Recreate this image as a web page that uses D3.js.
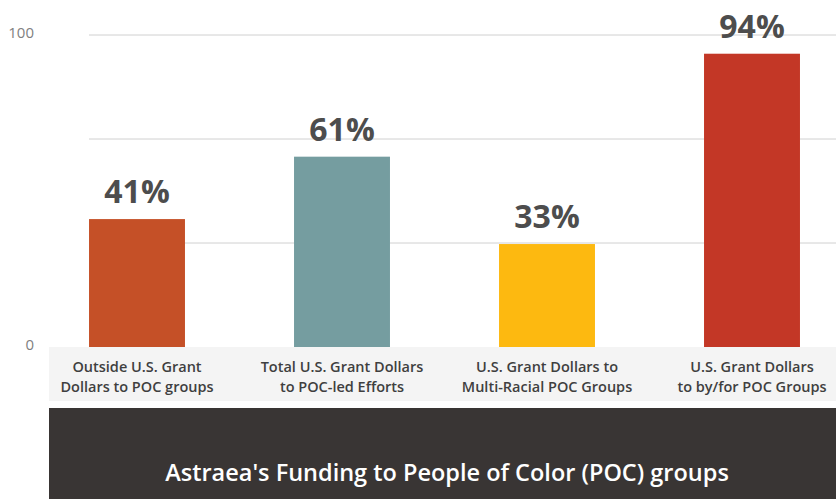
<!DOCTYPE html>
<html>
<head>
<meta charset="utf-8">
<script src="https://cdn.jsdelivr.net/npm/d3@7.9.0/dist/d3.min.js"></script>
<style>
    body { margin: 0; background: #fff; }
    svg { display: block; font-family: 'Open Sans', sans-serif; }
</style>
</head>
<body>
<svg id="chart" width="836" height="499"></svg>
<script>
const categories = [
    ['Outside U.S. Grant', 'Dollars to POC groups'],
    ['Total U.S. Grant Dollars', 'to POC-led Efforts'],
    ['U.S. Grant Dollars to', 'Multi-Racial POC Groups'],
    ['U.S. Grant Dollars', 'to by/for POC Groups'],
];
const values = [41, 61, 33, 94];
const barColors = ['#c55027', '#759da0', '#fdb910', '#c33726'];
const tickLabels = [0, 100];
const gridValues = [100 / 3, 200 / 3, 100];
const title = "Astraea's Funding to People of Color (POC) groups";

const svg = d3.select('#chart');

let x = d3.scaleBand()
    .domain(d3.range(categories.length))
    .range([34.5, 854.5])
    .paddingInner(0.532)
    .paddingOuter(0.266);
let y = d3.scaleLinear().domain([0, 100]).range([347, 35]);

// gridlines
svg.selectAll('line.grid')
    .data(gridValues)
    .join('line')
    .attr('class', 'grid')
    .attr('x1', 89).attr('x2', 836)
    .attr('y1', (d) => y(d)).attr('y2', (d) => y(d))
    .attr('stroke', '#d0d0d0')
    .attr('stroke-width', 1);

// y tick labels
svg.selectAll('text.tick')
    .data(tickLabels)
    .join('text')
    .attr('class', 'tick')
    .attr('x', 34)
    .attr('y', (d) => y(d) - 2)
    .attr('dy', '0.35em')
    .attr('text-anchor', 'end')
    .attr('fill', '#7f7f7f')
    .style('font-size', '15px')
    .text((d) => d);

// bars
svg.selectAll('rect.bar')
    .data(values)
    .join('rect')
    .attr('class', 'bar')
    .attr('x', (d, i) => x(i))
    .attr('width', x.bandwidth())
    .attr('y', (d) => y(d))
    .attr('height', (d) => y(0) - y(d))
    .attr('fill', (d, i) => barColors[i]);

// value labels
svg.selectAll('text.value')
    .data(values)
    .join('text')
    .attr('class', 'value')
    .attr('x', (d, i) => x(i) + x.bandwidth() / 2)
    .attr('y', (d) => y(d) - 16)
    .attr('text-anchor', 'middle')
    .attr('fill', '#4d4d4d')
    .style('font-size', '32px')
    .style('font-weight', 700)
    .text((d) => `${d}%`);

// category band
svg.append('rect')
    .attr('x', 49).attr('y', 347)
    .attr('width', 787).attr('height', 54)
    .attr('fill', '#f4f4f4');

let cat = svg.selectAll('text.cat')
    .data(categories)
    .join('text')
    .attr('class', 'cat')
    .attr('text-anchor', 'middle')
    .attr('fill', '#3f3f3f')
    .style('font-size', '14.5px')
    .style('font-weight', 600);
cat.selectAll('tspan')
    .data((d, i) => d.map((line) => ({ line, i })))
    .join('tspan')
    .attr('x', (d) => x(d.i) + x.bandwidth() / 2)
    .attr('y', (d, j) => 372 + j * 20)
    .text((d) => d.line);

// title banner
svg.append('rect')
    .attr('x', 49).attr('y', 408)
    .attr('width', 787).attr('height', 91)
    .attr('fill', '#393534');
svg.append('text')
    .attr('x', 447)
    .attr('y', 481)
    .attr('text-anchor', 'middle')
    .attr('fill', '#ffffff')
    .style('font-size', '23.5px')
    .style('font-weight', 600)
    .text(title);
</script>
</body>
</html>
